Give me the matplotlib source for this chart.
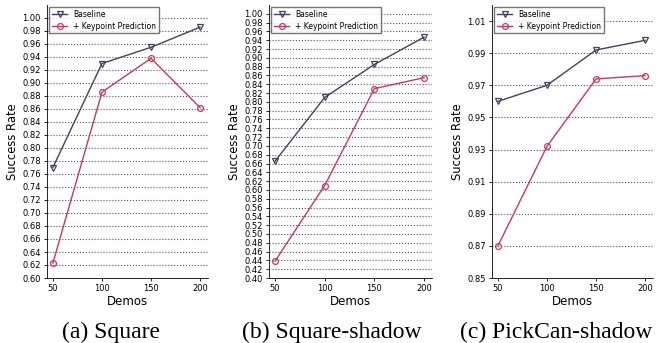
import matplotlib
matplotlib.use("Agg")
import matplotlib.pyplot as plt
import numpy as np

demos = [50, 100, 150, 200]
sq_base = [0.770, 0.930, 0.955, 0.986]
sq_kp = [0.623, 0.886, 0.938, 0.862]
sqs_base = [0.665, 0.810, 0.885, 0.947]
sqs_kp = [0.438, 0.610, 0.830, 0.855]
pc_base = [0.960, 0.970, 0.992, 0.998]
pc_kp = [0.870, 0.932, 0.974, 0.976]
captions = ["(a) Square", "(b) Square-shadow", "(c) PickCan-shadow"]
labels = ["Baseline", "+ Keypoint Prediction"]

c_base = "#4b3d5c"
c_kp = "#c23b5c"

fig = plt.figure(figsize=(6.61, 3.43), dpi=100)
W, H = 661, 343
panels = [
    (47, 208, sq_base, sq_kp, (0.60, 1.02), np.arange(0.60, 1.001, 0.02), 111),
    (269, 432, sqs_base, sqs_kp, (0.40, 1.02), np.arange(0.40, 1.001, 0.02), 332),
    (492, 653, pc_base, pc_kp, (0.85, 1.02), np.arange(0.85, 1.011, 0.02), 556),
]
top, bottom = 5, 278
for (l, r, b, k, yl, yt, cx), cap in zip(panels, captions):
    ax = fig.add_axes([l / W, 1 - bottom / H, (r - l) / W, (bottom - top) / H])
    ax.plot(demos, b, marker="v", color=c_base, mfc="none", ms=4.2, mew=0.9, lw=1, label=labels[0])
    ax.plot(demos, k, marker="o", color=c_kp, mfc="none", ms=4.2, mew=0.9, lw=1, label=labels[1])
    ax.set_ylim(*yl)
    ax.set_xlim(44, 208)
    ax.set_xticks(demos)
    ax.set_yticks(yt)
    ax.set_yticklabels(["%.2f" % v for v in yt])
    ax.tick_params(labelsize=6, length=2.5, width=0.6, pad=2)
    ax.yaxis.grid(True, linestyle=":", color="#555555", lw=0.8)
    ax.set_axisbelow(True)
    for s in ["top", "right"]:
        ax.spines[s].set_visible(False)
    for s in ["left", "bottom"]:
        ax.spines[s].set_linewidth(0.6)
    ax.set_xlabel("Demos", fontsize=8.5, labelpad=1)
    ax.set_ylabel("Success Rate", fontsize=8.3, labelpad=2)
    ax.legend(loc="upper left", fontsize=5.5, frameon=True, fancybox=False,
              edgecolor="#555555", borderpad=0.35, labelspacing=0.35,
              handlelength=2.0, borderaxespad=0.3)
    fig.text(cx / W, 1 - 332 / H, cap, ha="center", va="center",
             fontsize=17, family="Liberation Serif")

fig.savefig("out.png", dpi=100)
